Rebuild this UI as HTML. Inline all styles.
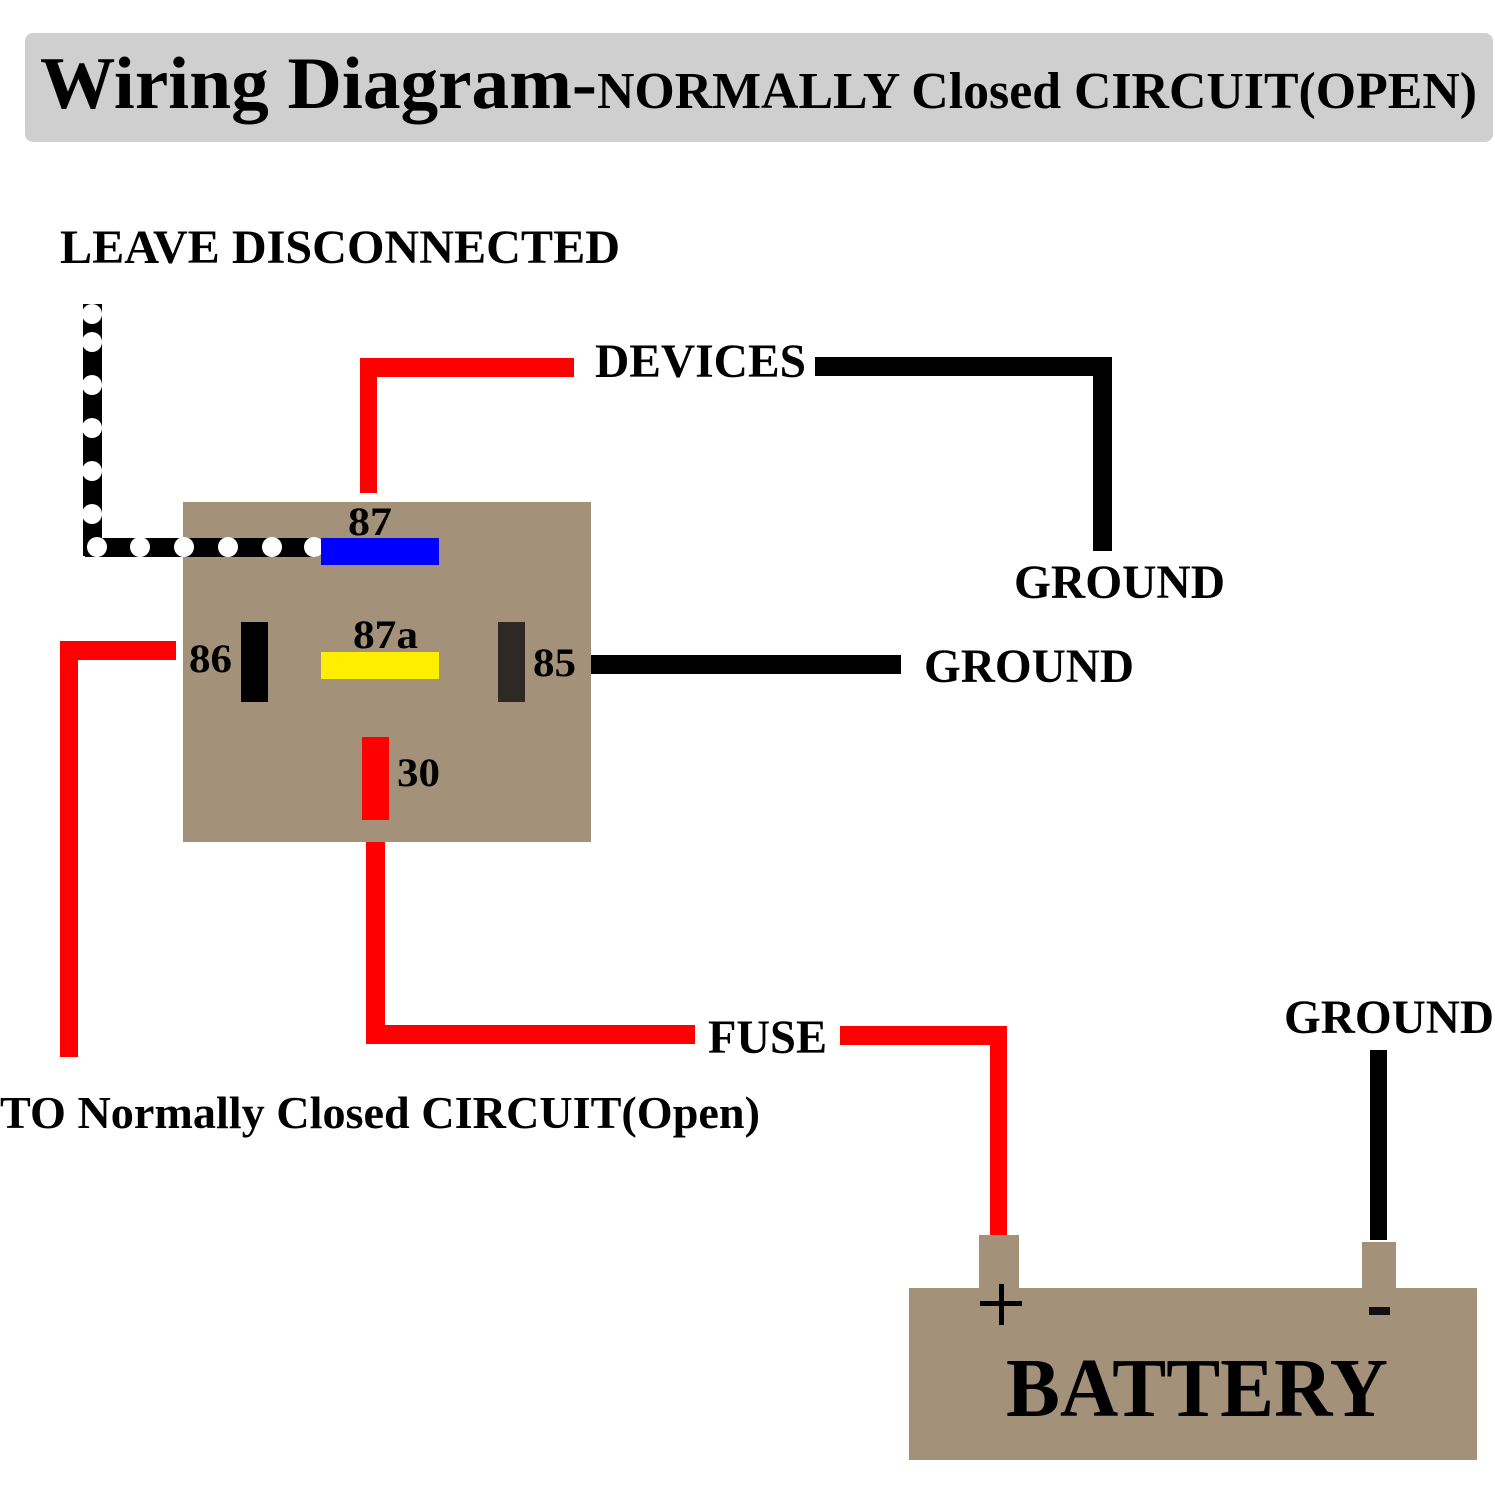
<!DOCTYPE html>
<html><head><meta charset="utf-8"><style>html,body{margin:0;padding:0;background:#fff}svg{display:block}</style></head>
<body>
<svg width="1495" height="1495" viewBox="0 0 1495 1495" xmlns="http://www.w3.org/2000/svg" font-family="'Liberation Serif', serif" font-weight="bold">
<rect x="25" y="33" width="1468" height="109" rx="8" fill="#cfcfcf"/>
<text x="40" y="108" font-size="74" textLength="557" lengthAdjust="spacingAndGlyphs">Wiring Diagram-</text>
<text x="597" y="108" font-size="52" textLength="880" lengthAdjust="spacingAndGlyphs">NORMALLY Closed CIRCUIT(OPEN)</text>

<text x="60" y="263" font-size="48" textLength="560" lengthAdjust="spacingAndGlyphs">LEAVE DISCONNECTED</text>
<text x="595" y="377" font-size="48" textLength="211" lengthAdjust="spacingAndGlyphs">DEVICES</text>
<text x="1014" y="598" font-size="48" textLength="211" lengthAdjust="spacingAndGlyphs">GROUND</text>
<text x="924" y="682" font-size="48" textLength="210" lengthAdjust="spacingAndGlyphs">GROUND</text>
<text x="1284" y="1033" font-size="48" textLength="210" lengthAdjust="spacingAndGlyphs">GROUND</text>
<text x="708" y="1053" font-size="48" textLength="119" lengthAdjust="spacingAndGlyphs">FUSE</text>
<text x="0" y="1128" font-size="46" textLength="760" lengthAdjust="spacingAndGlyphs">TO Normally Closed CIRCUIT(Open)</text>

<!-- wires -->
<g fill="#ff0000">
<rect x="360" y="360" width="17" height="133"/>
<rect x="360" y="358" width="214" height="19"/>
<rect x="60" y="641" width="116" height="19"/>
<rect x="60" y="641" width="18" height="416"/>
<rect x="366" y="842" width="19" height="202"/>
<rect x="366" y="1025" width="329" height="19"/>
<rect x="840" y="1026" width="167" height="19"/>
<rect x="990" y="1026" width="17" height="212"/>
</g>
<g fill="#000">
<rect x="815" y="357" width="297" height="19"/>
<rect x="1093" y="357" width="19" height="194"/>
<rect x="591" y="655" width="310" height="19"/>
<rect x="1370" y="1050" width="17" height="190"/>
</g>

<!-- relay -->
<rect x="183" y="502" width="408" height="340" fill="#a39179"/>
<!-- dotted wire -->
<rect x="83" y="304" width="19" height="252" fill="#000"/>
<rect x="85" y="538" width="232" height="19" fill="#000"/>
<g fill="#fff">
<circle cx="92" cy="314" r="10"/><circle cx="92" cy="342" r="10"/><circle cx="92" cy="385" r="10"/><circle cx="92" cy="428" r="10"/><circle cx="92" cy="471" r="10"/><circle cx="92" cy="514" r="10"/>
<circle cx="97" cy="547" r="10"/><circle cx="140" cy="547" r="10"/><circle cx="184" cy="547" r="10"/><circle cx="228" cy="547" r="10"/><circle cx="272" cy="547" r="10"/><circle cx="314" cy="547" r="10"/>
</g>
<rect x="321" y="538" width="118" height="27" fill="#0000ff"/>
<rect x="321" y="652" width="118" height="27" fill="#ffee00"/>
<rect x="241" y="622" width="27" height="80" fill="#000"/>
<rect x="498" y="622" width="27" height="80" fill="#302824"/>
<rect x="362" y="737" width="27" height="83" fill="#ff0000"/>
<text x="348" y="535" font-size="40" textLength="44" lengthAdjust="spacingAndGlyphs">87</text>
<text x="353" y="648" font-size="40" textLength="65" lengthAdjust="spacingAndGlyphs">87a</text>
<text x="189" y="672" font-size="40" textLength="43" lengthAdjust="spacingAndGlyphs">86</text>
<text x="533" y="676" font-size="40" textLength="43" lengthAdjust="spacingAndGlyphs">85</text>
<text x="397" y="786" font-size="40" textLength="43" lengthAdjust="spacingAndGlyphs">30</text>

<!-- battery -->
<rect x="979" y="1235" width="40" height="55" fill="#a39179"/>
<rect x="1362" y="1242" width="34" height="48" fill="#a39179"/>
<rect x="909" y="1288" width="568" height="172" fill="#a39179"/>
<rect x="980" y="1301" width="42" height="5" fill="#000"/>
<rect x="999" y="1284" width="5" height="41" fill="#000"/>
<rect x="1369" y="1307" width="21" height="8" fill="#111"/>
<text x="1006" y="1416" font-size="84" textLength="382" lengthAdjust="spacingAndGlyphs">BATTERY</text>
</svg>
</body></html>
